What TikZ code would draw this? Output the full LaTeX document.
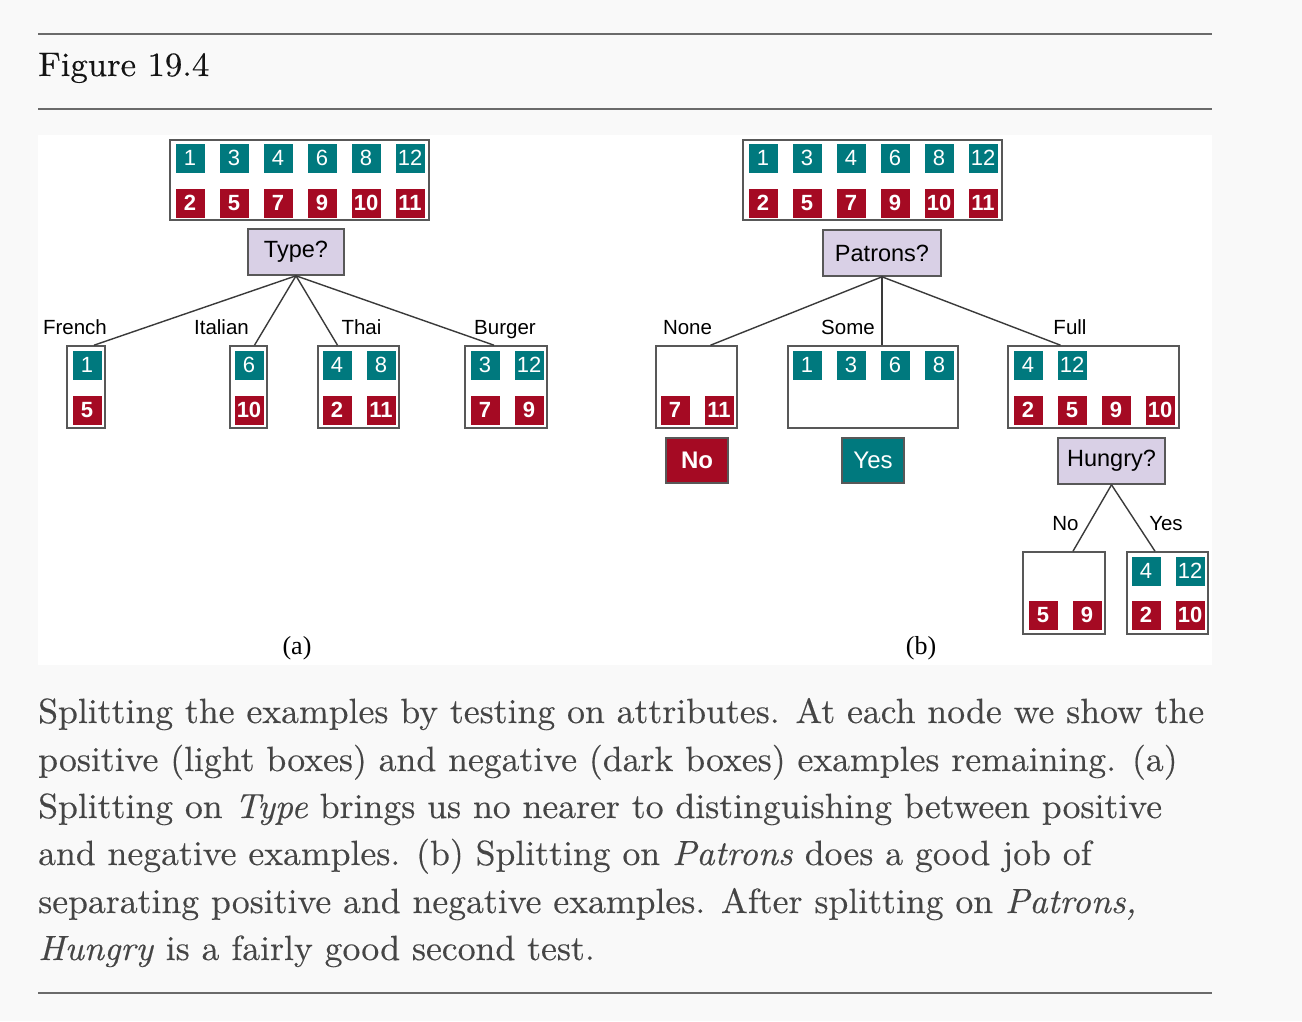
\documentclass[tikz,border=0pt]{standalone}
\usepackage{fontspec}
\newfontfamily\diagfont{Liberation Sans}
\newfontfamily\labfont{Liberation Serif}
\newfontfamily\capfont{lmroman10}[Extension=.otf, UprightFont=*-regular, ItalicFont=*-italic, BoldFont=*-bold, FakeStretch=1.02, FakeBold=0.3]
\usetikzlibrary{positioning}
\definecolor{pagebg}{HTML}{F9F9F9}
\definecolor{rulegray}{HTML}{6B6B6B}
\definecolor{posteal}{HTML}{00797E}
\definecolor{negred}{HTML}{A50A23}
\definecolor{testlilac}{HTML}{D9D0E6}
\definecolor{edgegray}{HTML}{3A3A3A}
\definecolor{captext}{HTML}{454545}
\tikzset{
	posex/.style={fill=posteal, text=white, minimum width=29pt, minimum height=29pt, inner sep=0pt, font=\diagfont\fontsize{22}{22}\selectfont},
	negex/.style={fill=negred, text=white, minimum width=29pt, minimum height=29pt, inner sep=0pt, font=\diagfont\bfseries\fontsize{22}{22}\selectfont},
	setbox/.style={draw=edgegray!85, line width=1.6pt, fill=white, inner sep=0pt, minimum height=82pt},
	testbox/.style={draw=edgegray!85, line width=1.6pt, fill=testlilac, minimum height=46pt, inner sep=0pt, font=\diagfont\fontsize{23.5}{23.5}\selectfont},
	noleaf/.style={draw=edgegray!85, line width=1.6pt, fill=negred, text=white, minimum width=62pt, minimum height=45pt, inner sep=0pt, font=\diagfont\bfseries\fontsize{24}{24}\selectfont},
	yesleaf/.style={draw=edgegray!85, line width=1.6pt, fill=posteal, text=white, minimum width=62pt, minimum height=45pt, inner sep=0pt, font=\diagfont\fontsize{24}{24}\selectfont},
	branch/.style={draw=edgegray, line width=1.4pt},
	branchlabel/.style={anchor=base, inner sep=0pt, font=\diagfont\fontsize{20.5}{20.5}\selectfont},
	rule/.style={draw=rulegray, line width=2pt},
	capline/.style={anchor=base west, inner sep=0pt, text=captext, font=\capfont\fontsize{35}{47}\selectfont},
}
\begin{document}
\begin{tikzpicture}[x=1pt, y=-1pt]
			%%%%% PAGE %%%%%
			\fill[pagebg] (0,0) rectangle (1302,1021);
			\useasboundingbox (0,0) rectangle (1302,1021);
			\fill[white] (38,135) rectangle (1212,665);
			\draw[rule] (38,34) -- (1212,34);
			\draw[rule] (38,109) -- (1212,109);
			\draw[rule] (38,993) -- (1212,993);
			\node[anchor=base west, inner sep=0pt, text=black!92, font=\capfont\fontsize{34}{42}\selectfont] (figtitle) at (38,76) {Figure 19.4};
			
			%%%%% (a) TYPE %%%%%
			\node[setbox, minimum width=259pt, minimum height=80pt] (roota) at (299.5,180) {};
			\foreach \n [count=\i from 0] in {1,3,4,6,8,12}
				\node[posex] (ra-p\n) at (190+44*\i,158) {\n};
			\foreach \n [count=\i from 0] in {2,5,7,9,10,11}
				\node[negex] (ra-n\n) at (190+44*\i,203) {\n};
			\node[testbox, minimum width=96pt] (typea) at (296,252) {Type?};
			
			\node[setbox, minimum width=38pt] (french) at (86,387) {};
			\node[posex] (fr-p1) at (87,365) {1};
			\node[negex] (fr-n5) at (87,410) {5};
			
			\node[setbox, minimum width=37pt] (italian) at (248.5,387) {};
			\node[posex] (it-p6) at (249,365) {6};
			\node[negex] (it-n10) at (249,410) {10};
			
			\node[setbox, minimum width=81pt] (thai) at (358.5,387) {};
			\node[posex] (th-p4) at (337,365) {4};
			\node[posex] (th-p8) at (381,365) {8};
			\node[negex] (th-n2) at (337,410) {2};
			\node[negex] (th-n11) at (381,410) {11};
			
			\node[setbox, minimum width=82pt] (burger) at (506,387) {};
			\node[posex] (bu-p3) at (485,365) {3};
			\node[posex] (bu-p12) at (529,365) {12};
			\node[negex] (bu-n7) at (485,410) {7};
			\node[negex] (bu-n9) at (529,410) {9};
			
			\draw[branch] (typea.south) -- ([xshift=8pt]french.north);
			\draw[branch] (typea.south) -- ([xshift=6pt]italian.north);
			\draw[branch] (typea.south) -- ([xshift=-21pt]thai.north);
			\draw[branch] (typea.south) -- ([xshift=-12pt]burger.north);
			\node[branchlabel] (l-french) at (75,334) {French};
			\node[branchlabel] (l-italian) at (221.5,334) {Italian};
			\node[branchlabel] (l-thai) at (361.5,334) {Thai};
			\node[branchlabel] (l-burger) at (505,334) {Burger};
			
			\node[font=\labfont\fontsize{26}{26}\selectfont] (cap-a) at (297,648) {(a)};
			
			%%%%% (b) PATRONS %%%%%
			\node[setbox, minimum width=259pt, minimum height=80pt] (rootb) at (872.5,180) {};
			\foreach \n [count=\i from 0] in {1,3,4,6,8,12}
				\node[posex] (rb-p\n) at (763+44*\i,158) {\n};
			\foreach \n [count=\i from 0] in {2,5,7,9,10,11}
				\node[negex] (rb-n\n) at (763+44*\i,203) {\n};
			\node[testbox, minimum width=118pt] (patronsb) at (882,253) {Patrons?};
			
			\node[setbox, minimum width=81pt] (none) at (696.5,387) {};
			\node[negex] (no-n7) at (675,410) {7};
			\node[negex] (no-n11) at (719,410) {11};
			
			\node[setbox, minimum width=170pt] (some) at (873,387) {};
			\node[posex] (so-p1) at (807,365) {1};
			\node[posex] (so-p3) at (851,365) {3};
			\node[posex] (so-p6) at (895,365) {6};
			\node[posex] (so-p8) at (939,365) {8};
			
			\node[setbox, minimum width=171pt] (full) at (1093.5,387) {};
			\node[posex] (fu-p4) at (1028,365) {4};
			\node[posex] (fu-p12) at (1072,365) {12};
			\node[negex] (fu-n2) at (1028,410) {2};
			\node[negex] (fu-n5) at (1072,410) {5};
			\node[negex] (fu-n9) at (1116,410) {9};
			\node[negex] (fu-n10) at (1160,410) {10};
			
			\draw[branch] (patronsb.south) -- ([xshift=14pt]none.north);
			\draw[branch] (patronsb.south) -- ([xshift=9pt]some.north);
			\draw[branch] (patronsb.south) -- ([xshift=-33pt]full.north);
			\node[branchlabel] (l-none) at (687.5,334) {None};
			\node[branchlabel] (l-some) at (848,334) {Some};
			\node[branchlabel] (l-full) at (1070,334) {Full};
			
			\node[noleaf] (ans-no) at (697,460.5) {No};
			\node[yesleaf] (ans-yes) at (873,460.5) {Yes};
			\node[testbox, minimum width=107pt] (hungryb) at (1111.5,461) {Hungry?};
			
			\node[setbox, minimum width=82pt] (hu-no) at (1064,593) {};
			\node[negex] (hn-n5) at (1043,615) {5};
			\node[negex] (hn-n9) at (1087,615) {9};
			
			\node[setbox, minimum width=81pt] (hu-yes) at (1167.5,593) {};
			\node[posex] (hy-p4) at (1146,571) {4};
			\node[posex] (hy-p12) at (1190,571) {12};
			\node[negex] (hy-n2) at (1146,615) {2};
			\node[negex] (hy-n10) at (1190,615) {10};
			
			\draw[branch] (hungryb.south) -- ([xshift=9pt]hu-no.north);
			\draw[branch] (hungryb.south) -- ([xshift=-12.5pt]hu-yes.north);
			\node[branchlabel] (l-hno) at (1065.5,530) {No};
			\node[branchlabel] (l-hyes) at (1166,530) {Yes};
			
			\node[font=\labfont\fontsize{26}{26}\selectfont] (cap-b) at (921,648) {(b)};
			
			%%%%% CAPTION %%%%%
			\node[capline] (cap1) at (38,723) {Splitting the examples by testing on attributes. At each node we show the};
			\node[capline] (cap2) at (38,771) {positive (light boxes) and negative (dark boxes) examples remaining. (a)};
			\node[capline] (cap3) at (38,818) {Splitting on \textit{Type} brings us no nearer to distinguishing between positive};
			\node[capline] (cap4) at (38,865) {and negative examples. (b) Splitting on \textit{Patrons} does a good job of};
			\node[capline] (cap5) at (38,913) {separating positive and negative examples. After splitting on \textit{Patrons,}};
			\node[capline] (cap6) at (38,960) {\textit{Hungry} is a fairly good second test.};
\end{tikzpicture}
\end{document}
